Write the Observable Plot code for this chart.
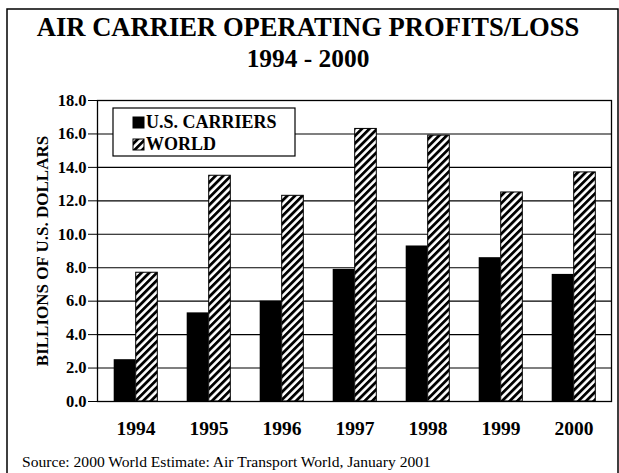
<!DOCTYPE html>
<html>
<head>
<meta charset="utf-8">
<script src="https://cdn.jsdelivr.net/npm/d3@7"></script>
<script src="https://cdn.jsdelivr.net/npm/@observablehq/plot@0.6"></script>
<style>
  html, body { margin: 0; padding: 0; background: #fff; }
  #wrap { position: relative; width: 619px; height: 473px; overflow: hidden; }
  #wrap > svg { position: absolute; left: 0; top: 0; }
</style>
</head>
<body>
<div id="wrap"></div>
<script>
const years = ["1994", "1995", "1996", "1997", "1998", "1999", "2000"];
const usCarriers = [2.5, 5.3, 6.0, 7.9, 9.3, 8.6, 7.6];
const world = [7.7, 13.5, 12.3, 16.3, 15.9, 12.5, 13.7];
const yTicks = [0, 2, 4, 6, 8, 10, 12, 14, 16, 18];
const seriesNames = ["U.S. CARRIERS", "WORLD"];
const titleLines = ["AIR CARRIER OPERATING PROFITS/LOSS", "1994 - 2000"];
const yLabel = "BILLIONS OF U.S. DOLLARS";
const caption = "Source: 2000 World Estimate: Air Transport World, January 2001";

const FONT = "'Liberation Serif', 'Times New Roman', serif";
const wrap = document.getElementById("wrap");

// background: page border, title, caption
const bg = d3.select(wrap).append("svg")
  .attr("width", 619).attr("height", 473)
  .style("font-family", FONT);
bg.append("path").attr("d", "M7,473V9H618V473")
  .attr("fill", "none").attr("stroke", "black").attr("stroke-width", 1.5);
bg.selectAll("text.title").data(titleLines).join("text")
  .attr("class", "title")
  .attr("x", 308).attr("y", (d, i) => 36 + i * 31)
  .attr("text-anchor", "middle")
  .attr("font-size", (d, i) => i === 0 ? 26.6 : 25.4).attr("font-weight", "bold")
  .text(d => d);
bg.append("text").attr("x", 22).attr("y", 467)
  .attr("font-size", 15.6).text(caption);

const usRows = years.map((y, i) => ({year: y, value: usCarriers[i]}));
const worldRows = years.map((y, i) => ({year: y, value: world[i]}));

const chart = Plot.plot({
  width: 619,
  height: 473,
  marginLeft: 97,
  marginRight: 8,
  marginTop: 100,
  marginBottom: 72,
  style: {fontFamily: FONT, background: "transparent", color: "black"},
  x: {domain: years, padding: 0, label: null},
  y: {domain: [0, 18], label: null},
  marks: [
    Plot.ruleY(yTicks.slice(1, -1), {stroke: "black", strokeWidth: 1.1}),
    Plot.barY(usRows, {x: "year", y: "value", fill: "black", insetLeft: 14.7, insetRight: 36.7}),
    Plot.barY(worldRows, {x: "year", y: "value", fill: "url(#hatch)", stroke: "black", strokeWidth: 1, insetLeft: 36.7, insetRight: 14.7}),
    Plot.frame({stroke: "black", strokeWidth: 1.3}),
    Plot.axisY({ticks: yTicks, tickFormat: d3.format(".1f"), tickSize: 9, tickPadding: 2, fontSize: 16.5, fontWeight: "bold", label: null}),
    Plot.axisX({tickSize: 0, tickPadding: 20, fontSize: 19.5, fontWeight: "bold", label: null}),
    Plot.text([yLabel], {frameAnchor: "left", text: d => d, rotate: -90, dx: -55, textAnchor: "middle", fontSize: 17, fontWeight: "bold"})
  ]
});
wrap.appendChild(chart);

const svg = d3.select(chart);
const defs = svg.insert("defs", ":first-child");
const pat = defs.append("pattern").attr("id", "hatch")
  .attr("patternUnits", "userSpaceOnUse")
  .attr("width", 5.4).attr("height", 5.4)
  .attr("patternTransform", "rotate(45)");
pat.append("rect").attr("width", 5.4).attr("height", 5.4).attr("fill", "white");
pat.append("line").attr("x1", 1.4).attr("x2", 1.4).attr("y1", 0).attr("y2", 5.4)
  .attr("stroke", "black").attr("stroke-width", 2.8);

// legend
const lg = svg.append("g").style("font-family", FONT).attr("text-anchor", "start");
lg.append("rect").attr("x", 113).attr("y", 108).attr("width", 182).attr("height", 48)
  .attr("fill", "white").attr("stroke", "black").attr("stroke-width", 1.2);
const fills = ["black", "url(#hatch)"];
seriesNames.forEach((name, i) => {
  lg.append("rect").attr("x", 133).attr("y", 117 + i * 22).attr("width", 11).attr("height", 11)
    .attr("fill", fills[i]).attr("stroke", "black").attr("stroke-width", 1);
  lg.append("text").attr("x", 146).attr("y", 128 + i * 22)
    .attr("text-anchor", "start")
    .attr("font-size", 18).attr("font-weight", "bold").text(name);
});
</script>
</body>
</html>
